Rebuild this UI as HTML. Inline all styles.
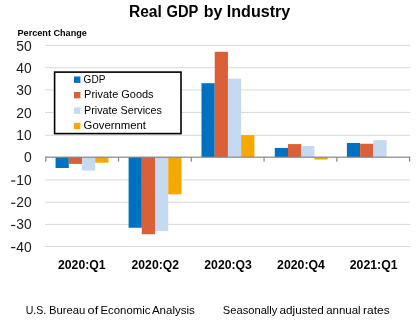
<!DOCTYPE html>
<html><head><meta charset="utf-8"><style>
html,body{margin:0;padding:0;background:#fff;width:420px;height:330px;overflow:hidden}
svg{display:block;will-change:transform}
text{font-family:"Liberation Sans",sans-serif;fill:#000}
.yl{font-size:13.8px;fill:#1a1a1a}
.xl{font-size:12.35px;font-weight:bold}
.lg{font-size:10.8px}
.ti{font-size:15.8px;font-weight:bold}
.pc{font-size:9.4px;font-weight:bold}
.ft{font-size:11px}
.ft2{font-size:11.2px}
</style></head><body>
<svg width="420" height="330" viewBox="0 0 420 330">
<rect x="45" y="44.90" width="365" height="1" fill="#D9D9D9"/>
<rect x="45" y="67.20" width="365" height="1" fill="#D9D9D9"/>
<rect x="45" y="89.40" width="365" height="1" fill="#D9D9D9"/>
<rect x="45" y="111.90" width="365" height="1" fill="#D9D9D9"/>
<rect x="45" y="134.80" width="365" height="1" fill="#D9D9D9"/>
<rect x="45" y="179.40" width="365" height="1" fill="#D9D9D9"/>
<rect x="45" y="201.70" width="365" height="1" fill="#D9D9D9"/>
<rect x="45" y="223.90" width="365" height="1" fill="#D9D9D9"/>
<rect x="45" y="246.00" width="365" height="1" fill="#D9D9D9"/>
<rect x="55.55" y="157.17" width="13.22" height="10.83" fill="#0070C0"/>
<rect x="68.77" y="157.17" width="13.22" height="6.73" fill="#DA6038"/>
<rect x="81.99" y="157.17" width="13.22" height="13.33" fill="#C5D9F1"/>
<rect x="95.21" y="157.17" width="13.22" height="5.53" fill="#F5A800"/>
<rect x="128.60" y="157.17" width="13.22" height="70.58" fill="#0070C0"/>
<rect x="141.82" y="157.17" width="13.22" height="77.03" fill="#DA6038"/>
<rect x="155.04" y="157.17" width="13.22" height="73.93" fill="#C5D9F1"/>
<rect x="168.26" y="157.17" width="13.22" height="37.13" fill="#F5A800"/>
<rect x="201.50" y="83.20" width="13.22" height="73.97" fill="#0070C0"/>
<rect x="214.72" y="51.80" width="13.22" height="105.37" fill="#DA6038"/>
<rect x="227.94" y="78.70" width="13.22" height="78.47" fill="#C5D9F1"/>
<rect x="241.16" y="135.10" width="13.22" height="22.07" fill="#F5A800"/>
<rect x="274.80" y="147.90" width="13.22" height="9.27" fill="#0070C0"/>
<rect x="288.02" y="144.10" width="13.22" height="13.07" fill="#DA6038"/>
<rect x="301.24" y="146.00" width="13.22" height="11.17" fill="#C5D9F1"/>
<rect x="314.46" y="157.17" width="13.22" height="2.33" fill="#F5A800"/>
<rect x="346.90" y="143.00" width="13.22" height="14.17" fill="#0070C0"/>
<rect x="360.12" y="143.75" width="13.22" height="13.42" fill="#DA6038"/>
<rect x="373.34" y="140.20" width="13.22" height="16.97" fill="#C5D9F1"/>
<rect x="45.1" y="156.57" width="365.1" height="1.2" fill="#868686"/>
<rect x="45.15" y="157.17" width="1.2" height="4.5" fill="#868686"/>
<rect x="117.92" y="157.17" width="1.2" height="4.5" fill="#868686"/>
<rect x="190.69" y="157.17" width="1.2" height="4.5" fill="#868686"/>
<rect x="263.46" y="157.17" width="1.2" height="4.5" fill="#868686"/>
<rect x="336.23" y="157.17" width="1.2" height="4.5" fill="#868686"/>
<rect x="409.00" y="157.17" width="1.2" height="4.5" fill="#868686"/>
<text x="31.6" y="251.60" text-anchor="end" class="yl">40</text>
<rect x="11.1" y="247.00" width="4.2" height="1.2" fill="#1a1a1a"/>
<text x="31.6" y="229.27" text-anchor="end" class="yl">30</text>
<rect x="11.1" y="224.90" width="4.2" height="1.2" fill="#1a1a1a"/>
<text x="31.6" y="206.94" text-anchor="end" class="yl">20</text>
<rect x="11.1" y="202.70" width="4.2" height="1.2" fill="#1a1a1a"/>
<text x="31.6" y="184.60" text-anchor="end" class="yl">10</text>
<rect x="11.1" y="180.40" width="4.2" height="1.2" fill="#1a1a1a"/>
<text x="31.6" y="162.27" text-anchor="end" class="yl">0</text>
<text x="31.6" y="139.94" text-anchor="end" class="yl">10</text>
<text x="31.6" y="117.60" text-anchor="end" class="yl">20</text>
<text x="31.6" y="95.27" text-anchor="end" class="yl">30</text>
<text x="31.6" y="72.94" text-anchor="end" class="yl">40</text>
<text x="31.6" y="50.60" text-anchor="end" class="yl">50</text>
<text x="58.00" y="268.6" textLength="47.65" lengthAdjust="spacingAndGlyphs" class="xl">2020:Q1</text>
<text x="131.60" y="268.6" textLength="47.35" lengthAdjust="spacingAndGlyphs" class="xl">2020:Q2</text>
<text x="204.30" y="268.6" textLength="47.55" lengthAdjust="spacingAndGlyphs" class="xl">2020:Q3</text>
<text x="277.10" y="268.6" textLength="47.75" lengthAdjust="spacingAndGlyphs" class="xl">2020:Q4</text>
<text x="349.80" y="268.6" textLength="47.75" lengthAdjust="spacingAndGlyphs" class="xl">2021:Q1</text>
<rect x="54.6" y="72.1" width="126.4" height="61.5" fill="#fff" stroke="#000" stroke-width="1.6"/>
<rect x="74" y="76.50" width="6.4" height="6.4" fill="#0070C0"/>
<text x="83.6" y="82.80" textLength="21.8" lengthAdjust="spacingAndGlyphs" class="lg">GDP</text>
<rect x="74" y="91.95" width="6.4" height="6.4" fill="#DA6038"/>
<text x="84.1" y="98.25" textLength="69.5" lengthAdjust="spacingAndGlyphs" class="lg">Private Goods</text>
<rect x="74" y="107.40" width="6.4" height="6.4" fill="#C5D9F1"/>
<text x="84.1" y="113.70" textLength="77.7" lengthAdjust="spacingAndGlyphs" class="lg">Private Services</text>
<rect x="74" y="122.85" width="6.4" height="6.4" fill="#F5A800"/>
<text x="83.6" y="129.15" textLength="62.4" lengthAdjust="spacingAndGlyphs" class="lg">Government</text>
<text x="128.93" y="16.9" textLength="32.97" lengthAdjust="spacingAndGlyphs" class="ti">Real</text>
<text x="166.46" y="16.9" textLength="31.84" lengthAdjust="spacingAndGlyphs" class="ti">GDP</text>
<text x="203.86" y="16.9" textLength="18.64" lengthAdjust="spacingAndGlyphs" class="ti">by</text>
<text x="226.8" y="16.9" textLength="63.53" lengthAdjust="spacingAndGlyphs" class="ti">Industry</text>
<text x="17.5" y="35.7" textLength="69.38" lengthAdjust="spacingAndGlyphs" class="pc">Percent Change</text>
<text x="25.73" y="313.6" textLength="20.54" lengthAdjust="spacingAndGlyphs" class="ft">U.S.</text>
<text x="48.98" y="313.6" textLength="36.42" lengthAdjust="spacingAndGlyphs" class="ft">Bureau</text>
<text x="87.6" y="313.6" textLength="10.6" lengthAdjust="spacingAndGlyphs" class="ft">of</text>
<text x="100.47" y="313.6" textLength="49.91" lengthAdjust="spacingAndGlyphs" class="ft">Economic</text>
<text x="151.9" y="313.6" textLength="42.99" lengthAdjust="spacingAndGlyphs" class="ft">Analysis</text>
<text x="222.8" y="313.6" textLength="54.58" lengthAdjust="spacingAndGlyphs" class="ft2">Seasonally</text>
<text x="279.46" y="313.6" textLength="44.44" lengthAdjust="spacingAndGlyphs" class="ft2">adjusted</text>
<text x="326.17" y="313.6" textLength="34.45" lengthAdjust="spacingAndGlyphs" class="ft2">annual</text>
<text x="363.14" y="313.6" textLength="26.65" lengthAdjust="spacingAndGlyphs" class="ft2">rates</text>
</svg>
</body></html>
